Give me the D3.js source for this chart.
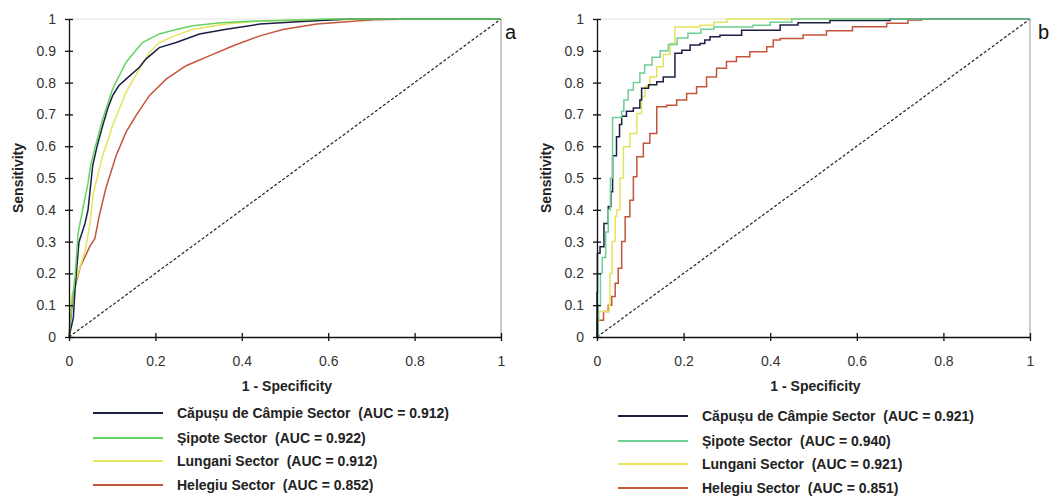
<!DOCTYPE html>
<html>
<head>
<meta charset="utf-8">
<script src="https://cdn.jsdelivr.net/npm/d3@7"></script>
<style>
  body { margin: 0; background: #fff; }
  text { font-family: "Liberation Sans", Arial, sans-serif; }
  .tick-label { font-size: 14px; fill: #333; }
  .axis-title { font-size: 14px; font-weight: bold; fill: #222; }
  .legend-text { font-size: 14px; font-weight: bold; fill: #222; white-space: pre; }
</style>
</head>
<body>
<div id="viz"></div>
<script>
var width = 1052, height = 497;

// tick labels
var x_ticks = [0, 0.2, 0.4, 0.6, 0.8, 1];
var y_ticks = [0, 0.1, 0.2, 0.3, 0.4, 0.5, 0.6, 0.7, 0.8, 0.9, 1];

// series names + colours
var sectors = ["Căpușu de Câmpie Sector", "Șipote Sector", "Lungani Sector", "Helegiu Sector"];
var auc_a = ["0.912", "0.922", "0.912", "0.852"];
var auc_b = ["0.921", "0.940", "0.921", "0.851"];
var colors_a = ["#1c1f45", "#62d462", "#e4e45e", "#c4553a"];
var colors_b = ["#1c1f45", "#6fcf95", "#e4e45e", "#c4553a"];

// panel a ROC points [1 - specificity, sensitivity]
var capusu_a = [[0,0],[0.01,0.06],[0.014,0.15],[0.02,0.25],[0.023,0.298],[0.037,0.357],[0.044,0.4],[0.048,0.45],[0.055,0.54],[0.065,0.6],[0.078,0.665],[0.09,0.72],[0.101,0.759],[0.115,0.79],[0.132,0.811],[0.163,0.848],[0.178,0.874],[0.209,0.91],[0.248,0.926],[0.302,0.953],[0.364,0.968],[0.442,0.984],[0.55,0.993],[0.65,1],[1,1]];
var sipote_a = [[0,0],[0.006,0.095],[0.014,0.19],[0.021,0.326],[0.033,0.41],[0.044,0.483],[0.05,0.54],[0.065,0.62],[0.078,0.686],[0.101,0.78],[0.132,0.864],[0.17,0.926],[0.209,0.953],[0.25,0.968],[0.287,0.979],[0.35,0.988],[0.442,0.994],[0.55,0.998],[0.6,1],[1,1]];
var lungani_a = [[0,0],[0.006,0.127],[0.021,0.2],[0.037,0.27],[0.048,0.35],[0.056,0.45],[0.065,0.5],[0.078,0.57],[0.101,0.665],[0.132,0.77],[0.163,0.843],[0.186,0.895],[0.209,0.926],[0.25,0.95],[0.287,0.968],[0.364,0.984],[0.442,0.994],[0.6,0.998],[0.75,1],[1,1]];
var helegiu_a = [[0,0],[0.01,0.137],[0.026,0.22],[0.048,0.284],[0.06,0.31],[0.07,0.381],[0.085,0.466],[0.109,0.57],[0.132,0.644],[0.155,0.696],[0.186,0.759],[0.225,0.811],[0.271,0.853],[0.326,0.885],[0.38,0.916],[0.442,0.947],[0.495,0.967],[0.574,0.984],[0.705,0.998],[0.8,1],[1,1]];

// panel b ROC points (stepped)
var capusu_b = [[0,0],[0,0.14],[0.001,0.263],[0.007,0.284],[0.016,0.357],[0.026,0.41],[0.032,0.457],[0.036,0.57],[0.045,0.63],[0.052,0.668],[0.057,0.694],[0.068,0.71],[0.084,0.72],[0.099,0.745],[0.103,0.782],[0.119,0.793],[0.138,0.803],[0.153,0.818],[0.18,0.892],[0.196,0.902],[0.215,0.918],[0.238,0.923],[0.249,0.934],[0.261,0.944],[0.284,0.949],[0.334,0.965],[0.423,0.981],[0.464,0.988],[0.538,0.995],[0.677,1],[1,1]];
var sipote_b = [[0,0],[0.003,0.1],[0.008,0.2],[0.012,0.25],[0.02,0.33],[0.026,0.4],[0.031,0.5],[0.036,0.69],[0.052,0.69],[0.057,0.71],[0.062,0.745],[0.072,0.777],[0.084,0.8],[0.099,0.83],[0.11,0.855],[0.127,0.88],[0.146,0.9],[0.165,0.92],[0.185,0.94],[0.21,0.955],[0.24,0.968],[0.27,0.975],[0.36,0.98],[0.4,0.99],[0.45,1],[1,1]];
var lungani_b = [[0,0],[0.002,0.05],[0.004,0.08],[0.028,0.1],[0.03,0.2],[0.035,0.3],[0.042,0.38],[0.046,0.4],[0.053,0.5],[0.061,0.598],[0.076,0.64],[0.092,0.703],[0.103,0.756],[0.111,0.788],[0.122,0.818],[0.138,0.85],[0.153,0.888],[0.169,0.923],[0.18,0.975],[0.238,0.98],[0.27,0.99],[0.3,1],[1,1]];
var helegiu_b = [[0,0],[0,0.053],[0.015,0.08],[0.026,0.1],[0.034,0.127],[0.042,0.169],[0.049,0.216],[0.057,0.3],[0.065,0.378],[0.076,0.43],[0.084,0.504],[0.092,0.567],[0.107,0.609],[0.122,0.64],[0.138,0.724],[0.161,0.729],[0.184,0.745],[0.207,0.766],[0.23,0.787],[0.253,0.818],[0.276,0.845],[0.299,0.866],[0.322,0.881],[0.353,0.897],[0.392,0.913],[0.407,0.934],[0.423,0.939],[0.476,0.95],[0.53,0.963],[0.59,0.976],[0.669,0.987],[0.718,0.997],[0.75,1],[1,1]];

var svg = d3.select("#viz").append("svg").attr("width", width).attr("height", height);

var panels = [
  { x0: 69, x1: 501, label: "a", lx: 505, series: [capusu_a, sipote_a, lungani_a, helegiu_a],
    colors: colors_a, auc: auc_a, curve: d3.curveLinear, legX: 93, legY: [413, 438, 461, 485] },
  { x0: 597, x1: 1030, label: "b", lx: 1038, series: [capusu_b, sipote_b, lungani_b, helegiu_b],
    colors: colors_b, auc: auc_b, curve: d3.curveStepAfter, legX: 618, legY: [416, 441, 464, 488] }
];

var top_y = 19, bot_y = 337;

panels.forEach(function(p){
  var g = svg.append("g");
  var x = d3.scaleLinear().domain([0, 1]).range([p.x0, p.x1]);
  var y = d3.scaleLinear().domain([0, 1]).range([bot_y, top_y]);

  // frame: top + right
  g.append("line").attr("x1", x(0)).attr("x2", x(1)).attr("y1", y(1)).attr("y2", y(1))
      .style("stroke", "#e2e2e2").style("stroke-width", 1);
  g.append("line").attr("x1", x(1)).attr("x2", x(1)).attr("y1", y(0)).attr("y2", y(1))
      .style("stroke", "#999").style("stroke-width", 1);

  // diagonal
  g.append("line").attr("x1", x(0)).attr("y1", y(0)).attr("x2", x(1)).attr("y2", y(1))
      .style("stroke", "#222").style("stroke-width", 1.2).style("stroke-dasharray", "3,2");

  var line = d3.line().x(function(d){ return x(d[0]); }).y(function(d){ return y(d[1]); }).curve(p.curve);

  // red, yellow, black, green
  [3, 2, 0, 1].forEach(function(i){
    g.append("path").datum(p.series[i]).attr("d", line)
        .style("fill", "none").style("stroke", p.colors[i]).style("stroke-width", 1.5);
  });

  // axes
  var xAxis = d3.axisBottom(x).tickValues(x_ticks).tickSize(0).tickFormat(function(d){ return String(d); });
  var yAxis = d3.axisLeft(y).tickValues(y_ticks).tickSize(0).tickFormat(function(d){ return String(d); });

  var gx = g.append("g").attr("transform", "translate(0," + y(0) + ")").call(xAxis);
  gx.select(".domain").style("stroke", "#111").style("stroke-width", 1.3);
  gx.selectAll(".tick text").attr("class", "tick-label").attr("dy", 0).attr("y", 29).style("font-family", null);
  gx.selectAll(".tick").append("line").attr("y1", -4).attr("y2", 4).style("stroke", "#111").style("stroke-width", 1.3);

  var gy = g.append("g").attr("transform", "translate(" + x(0) + ",0)").call(yAxis);
  gy.select(".domain").style("stroke", "#111").style("stroke-width", 1.3);
  gy.selectAll(".tick text").attr("class", "tick-label").attr("x", -13).style("font-family", null);
  gy.selectAll(".tick").append("line").attr("x1", -4).attr("x2", 4).style("stroke", "#111").style("stroke-width", 1.3);
  gx.attr("font-size", null); gy.attr("font-size", null);

  // axis titles
  g.append("text").attr("class", "axis-title")
      .attr("transform", "translate(" + (p.x0 - 46) + "," + ((top_y + bot_y) / 2) + ") rotate(-90)")
      .style("text-anchor", "middle").text("Sensitivity");
  g.append("text").attr("class", "axis-title")
      .attr("x", (p.x0 + p.x1) / 2 + 2).attr("y", 391)
      .style("text-anchor", "middle").text("1 - Specificity");

  // panel letter
  g.append("text").attr("x", p.lx).attr("y", 39).style("font-size", "20px").style("fill", "#111").text(p.label);

  // legend
  sectors.forEach(function(name, i){
    var ly = p.legY[i];
    g.append("line").attr("x1", p.legX).attr("x2", p.legX + 70).attr("y1", ly).attr("y2", ly)
        .style("stroke", p.colors[i]).style("stroke-width", 2);
    g.append("text").attr("class", "legend-text").attr("x", p.legX + 84).attr("y", ly + 5)
        .text(name + "  (AUC = " + p.auc[i] + ")");
  });
});
</script>
</body>
</html>
